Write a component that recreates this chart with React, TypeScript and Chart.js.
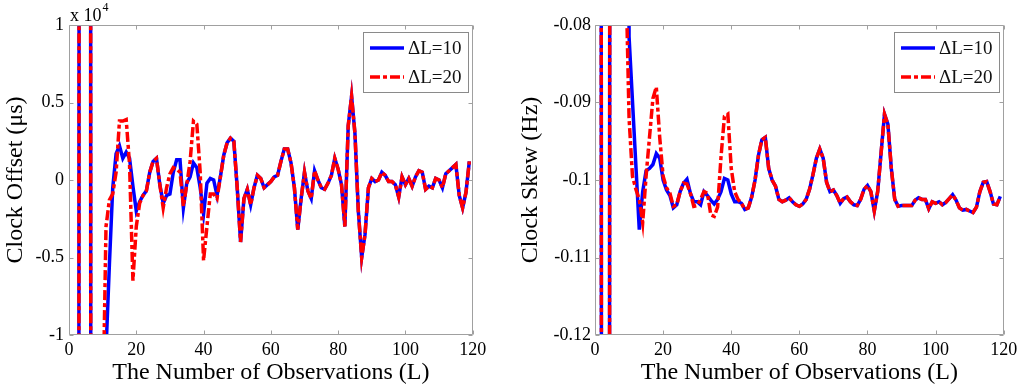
import React, { useEffect, useRef } from 'react';
import { Chart, registerables } from 'chart.js';

Chart.register(...registerables);

// ---------- data ----------
const observations = [
  1, 2, 3, 4, 5, 6, 7, 8, 9, 10,
  11, 12, 13, 14, 15, 16, 17, 18, 19, 20,
  21, 22, 23, 24, 25, 26, 27, 28, 29, 30,
  31, 32, 33, 34, 35, 36, 37, 38, 39, 40,
  41, 42, 43, 44, 45, 46, 47, 48, 49, 50,
  51, 52, 53, 54, 55, 56, 57, 58, 59, 60,
  61, 62, 63, 64, 65, 66, 67, 68, 69, 70,
  71, 72, 73, 74, 75, 76, 77, 78, 79, 80,
  81, 82, 83, 84, 85, 86, 87, 88, 89, 90,
  91, 92, 93, 94, 95, 96, 97, 98, 99, 100,
  101, 102, 103, 104, 105, 106, 107, 108, 109, 110,
  111, 112, 113, 114, 115, 116, 117, 118, 119,
];

// Clock offset (x 10^4 us)
const offsetDL10 = [
  -60, -60, 2, 50, 50, 45, -55, -50, -50, -30,
  -1.1, -0.55, -0.05, 0.17, 0.22, 0.14, 0.18, 0.14, -0.04, -0.2,
  -0.14, -0.1, -0.07, 0.05, 0.12, 0.14, -0.03, -0.15, -0.1, -0.09,
  0.05, 0.13, 0.13, -0.18, -0.02, 0.02, 0.11, 0.08, -0.05, -0.22,
  -0.02, 0.01, 0.0, -0.1, 0.02, 0.16, 0.24, 0.27, 0.25, -0.05,
  -0.4, -0.12, -0.06, -0.16, -0.05, 0.03, 0.01, -0.05, -0.03, -0.01,
  0.02, 0.03, 0.12, 0.2, 0.2, 0.11, -0.05, -0.32, -0.12, 0.05,
  -0.07, -0.12, 0.06, 0.0, -0.05, -0.06, -0.02, 0.03, 0.14, 0.07,
  -0.03, -0.3, 0.35, 0.54, 0.3, -0.2, -0.5, -0.35, -0.05, 0.01,
  -0.01, 0.0, 0.05, 0.03, -0.01, -0.01, -0.03, -0.11, 0.02, -0.03,
  0.01, -0.04, 0.02, 0.06, 0.05, -0.06, -0.04, -0.05, 0.01, 0.0,
  -0.05, 0.04, 0.06, 0.08, 0.1, -0.1, -0.18, -0.08, 0.12,
];

const offsetDL20 = [
  -60, -60, 2, 50, 50, 45, -55, -50, -50, -1.6,
  -0.3, -0.13, -0.09, 0.05, 0.38, 0.38, 0.39, 0.1, -0.65, -0.3,
  -0.15, -0.1, -0.07, 0.05, 0.12, 0.14, -0.03, -0.18, -0.05, 0.04,
  0.08, 0.07, 0.05, -0.17, -0.03, 0.12, 0.38, 0.36, 0.05, -0.52,
  -0.3, -0.09, -0.09, -0.12, 0.02, 0.16, 0.24, 0.27, 0.25, -0.05,
  -0.4, -0.12, -0.06, -0.16, -0.05, 0.03, 0.01, -0.05, -0.03, -0.01,
  0.02, 0.03, 0.12, 0.2, 0.2, 0.11, -0.05, -0.32, -0.12, 0.05,
  -0.07, -0.12, 0.06, 0.0, -0.05, -0.06, -0.02, 0.03, 0.14, 0.07,
  -0.03, -0.3, 0.35, 0.54, 0.3, -0.2, -0.5, -0.35, -0.05, 0.01,
  -0.01, 0.0, 0.05, 0.03, -0.01, -0.01, -0.03, -0.11, 0.02, -0.03,
  0.01, -0.04, 0.02, 0.06, 0.05, -0.06, -0.04, -0.05, 0.01, 0.0,
  -0.05, 0.04, 0.06, 0.08, 0.1, -0.1, -0.18, -0.08, 0.12,
];

// Clock skew (Hz)
const skewDL10 = [
  0.76, -0.24, -0.3, -0.4, 0.6, 0.5, 0.5, 0.5, 0.5, -0.0815,
  -0.0898, -0.0981, -0.1064, -0.1015, -0.0988, -0.0985, -0.098, -0.0966, -0.0972, -0.1,
  -0.1013, -0.102, -0.1036, -0.1032, -0.1015, -0.1004, -0.0999, -0.1017, -0.1028, -0.1028,
  -0.1032, -0.1015, -0.102, -0.1026, -0.1031, -0.1025, -0.1015, -0.0998, -0.1, -0.1018,
  -0.1028, -0.1028, -0.103, -0.1038, -0.1036, -0.1022, -0.1, -0.0968, -0.0948, -0.0945,
  -0.0985, -0.1, -0.1008, -0.1025, -0.1028, -0.1026, -0.1023, -0.1028, -0.1032, -0.1034,
  -0.1031, -0.1025, -0.1012, -0.0993, -0.0972, -0.096, -0.0972, -0.1003, -0.1015, -0.1013,
  -0.102, -0.103, -0.1024, -0.1022, -0.1028, -0.1032, -0.1033, -0.1025, -0.1012, -0.1007,
  -0.1015, -0.104, -0.1015, -0.0965, -0.0915, -0.0928, -0.0985, -0.1025, -0.1034, -0.1033,
  -0.1033, -0.1033, -0.1033, -0.1026, -0.1023, -0.1025, -0.1025, -0.1037, -0.1028, -0.103,
  -0.1028, -0.1032, -0.1029, -0.1024, -0.1019, -0.1026, -0.1036, -0.1039, -0.1038, -0.104,
  -0.1042, -0.1035, -0.1015, -0.1003, -0.1002, -0.1015, -0.1031, -0.1032, -0.1021,
];

const skewDL20 = [
  0.76, -0.24, -0.3, -0.4, 0.6, 0.5, 0.5, 0.5, -0.072, -0.092,
  -0.0995, -0.1012, -0.1025, -0.1055, -0.0995, -0.0945, -0.0895, -0.088, -0.0945, -0.0995,
  -0.101, -0.1017, -0.1034, -0.1032, -0.1015, -0.1004, -0.1005, -0.1017, -0.1034, -0.1033,
  -0.1025, -0.1015, -0.1017, -0.1045, -0.1047, -0.1035, -0.097, -0.0918, -0.0915, -0.0985,
  -0.1015, -0.1025, -0.103, -0.1038, -0.1036, -0.1022, -0.1, -0.0968, -0.0948, -0.0945,
  -0.0985, -0.1, -0.1008, -0.1025, -0.1028, -0.1026, -0.1023, -0.1028, -0.1032, -0.1034,
  -0.1031, -0.1025, -0.1012, -0.0993, -0.0972, -0.096, -0.0972, -0.1003, -0.1015, -0.1013,
  -0.102, -0.103, -0.1024, -0.1022, -0.1028, -0.1032, -0.1033, -0.1025, -0.1012, -0.1007,
  -0.1015, -0.104, -0.1015, -0.0965, -0.0915, -0.0928, -0.0985, -0.1025, -0.1034, -0.1033,
  -0.1033, -0.1033, -0.1033, -0.1026, -0.1023, -0.1025, -0.1025, -0.1037, -0.1028, -0.103,
  -0.1028, -0.1032, -0.1029, -0.1024, -0.1019, -0.1026, -0.1036, -0.1039, -0.1038, -0.104,
  -0.1042, -0.1035, -0.1015, -0.1003, -0.1002, -0.1015, -0.1031, -0.1032, -0.1021,
];

const xTickValues = [0, 20, 40, 60, 80, 100, 120];
const offsetTickValues = [-1, -0.5, 0, 0.5, 1];
const skewTickValues = [-0.12, -0.11, -0.1, -0.09, -0.08];
const seriesLabels = ['ΔL=10', 'ΔL=20'];
const xTitle = 'The Number of Observations (L)';
const offsetTitle = 'Clock Offset (μs)';
const skewTitle = 'Clock Skew (Hz)';
const offsetExponentBase = 'x 10';
const offsetExponentPower = '4';

// ---------- styles ----------
const SERIF = '"Liberation Serif", "Times New Roman", Times, serif';
const BLUE = '#0000ff';
const RED = '#ff0000';
const DASH_DOT = [10, 3, 4, 3];
const FRAME = '#a0a0a0';

const framePlugin = {
  id: 'matlabFrame',
  afterDatasetsDraw(chart: any) {
    const { ctx, chartArea: a, scales } = chart;
    const x = scales.x;
    const y = scales.y;
    const l = Math.round(a.left) + 0.5;
    const r = Math.round(a.right) - 0.5;
    const t = Math.round(a.top) + 0.5;
    const b = Math.round(a.bottom) - 0.5;
    ctx.save();
    ctx.strokeStyle = FRAME;
    ctx.lineWidth = 1;
    ctx.setLineDash([]);
    ctx.beginPath();
    ctx.rect(l, t, r - l, b - t);
    const tl = 4;
    x.ticks.forEach((tk: any) => {
      const px = Math.round(x.getPixelForValue(tk.value)) + 0.5;
      ctx.moveTo(px, b);
      ctx.lineTo(px, b - tl);
      ctx.moveTo(px, t);
      ctx.lineTo(px, t + tl);
    });
    y.ticks.forEach((tk: any) => {
      const py = Math.round(y.getPixelForValue(tk.value)) + 0.5;
      ctx.moveTo(l, py);
      ctx.lineTo(l + tl, py);
      ctx.moveTo(r, py);
      ctx.lineTo(r - tl, py);
    });
    ctx.stroke();
    ctx.restore();
  },
};

const legendBoxPlugin = {
  id: 'legendBox',
  afterDraw(chart: any) {
    const { ctx, chartArea: a } = chart;
    const w = 105;
    const h = 60;
    const bx = Math.round(a.right - 5 - w);
    const by = Math.round(a.top + 7);
    ctx.save();
    ctx.fillStyle = '#ffffff';
    ctx.fillRect(bx, by, w, h);
    ctx.strokeStyle = '#8a8a8a';
    ctx.lineWidth = 1;
    ctx.setLineDash([]);
    ctx.strokeRect(bx + 0.5, by + 0.5, w, h);
    chart.data.datasets.forEach((ds: any, i: number) => {
      const cy = by + 16 + i * 29;
      ctx.beginPath();
      ctx.setLineDash(ds.borderDash || []);
      ctx.lineCap = 'butt';
      ctx.strokeStyle = ds.borderColor;
      ctx.lineWidth = ds.borderWidth;
      ctx.moveTo(bx + 7, cy);
      ctx.lineTo(bx + 41, cy);
      ctx.stroke();
      ctx.setLineDash([]);
      ctx.fillStyle = '#111';
      ctx.font = `19px ${SERIF}`;
      ctx.textAlign = 'left';
      ctx.textBaseline = 'middle';
      ctx.fillText(ds.label, bx + 45, cy + 1);
    });
    ctx.restore();
  },
};

const exponentPlugin = {
  id: 'exponentLabel',
  afterDraw(chart: any, _args: any, opts: any) {
    if (!opts || !opts.base) return;
    const { ctx, chartArea: a } = chart;
    ctx.save();
    ctx.fillStyle = '#000';
    ctx.textAlign = 'left';
    ctx.textBaseline = 'alphabetic';
    ctx.font = `18px ${SERIF}`;
    const x0 = a.left + 1;
    ctx.fillText(opts.base, x0, a.top - 4);
    const w = ctx.measureText(opts.base).width;
    ctx.font = `12px ${SERIF}`;
    ctx.fillText(opts.power, x0 + w + 1, a.top - 14);
    ctx.restore();
  },
};

type PanelSpec = {
  left: number;
  seriesA: number[];
  seriesB: number[];
  yMin: number;
  yMax: number;
  yTicks: number[];
  yTitle: string;
  yAxisWidth: number;
  padRight: number;
  yTickPad: number;
  yTitlePad: number;
  exponent: boolean;
};

function ChartPanel({ spec }: { spec: PanelSpec }) {
  const ref = useRef<HTMLCanvasElement | null>(null);
  useEffect(() => {
    const canvas = ref.current;
    if (!canvas) return;
    const tickFont = { family: SERIF, size: 18 };
    const titleFont = { family: SERIF, size: 24 };
    const chart = new Chart(canvas, {
      type: 'line',
      data: {
        datasets: [
          {
            label: seriesLabels[0],
            data: observations.map((L, i) => ({ x: L, y: spec.seriesA[i] })),
            borderColor: BLUE,
            borderWidth: 3.5,
            pointRadius: 0,
            tension: 0,
            fill: false,
            order: 1,
          },
          {
            label: seriesLabels[1],
            data: observations.map((L, i) => ({ x: L, y: spec.seriesB[i] })),
            borderColor: RED,
            borderWidth: 3.5,
            borderDash: DASH_DOT,
            borderCapStyle: 'butt',
            pointRadius: 0,
            tension: 0,
            fill: false,
            order: 0,
          },
        ],
      } as any,
      options: {
        animation: false,
        responsive: false,
        devicePixelRatio: 1,
        events: [],
        layout: { padding: { top: 25, right: spec.padRight, left: 0, bottom: 0 } },
        plugins: {
          legend: { display: false },
          tooltip: { enabled: false },
          exponentLabel: spec.exponent
            ? { base: offsetExponentBase, power: offsetExponentPower }
            : {},
        },
        scales: {
          x: {
            type: 'linear',
            min: 0,
            max: 120,
            afterBuildTicks: (s: any) => {
              s.ticks = xTickValues.map((v) => ({ value: v }));
            },
            afterFit: (s: any) => {
              s.height = 55;
            },
            grid: { display: false, drawTicks: false },
            border: { display: false },
            ticks: {
              color: '#000',
              font: tickFont,
              padding: 4,
              maxRotation: 0,
              autoSkip: false,
            },
            title: {
              display: true,
              text: xTitle,
              color: '#000',
              font: titleFont,
              padding: { top: 0, bottom: 3 },
            },
          },
          y: {
            type: 'linear',
            min: spec.yMin,
            max: spec.yMax,
            afterBuildTicks: (s: any) => {
              s.ticks = spec.yTicks.map((v) => ({ value: v }));
            },
            afterFit: (s: any) => {
              s.width = spec.yAxisWidth;
            },
            grid: { display: false, drawTicks: false },
            border: { display: false },
            ticks: {
              color: '#000',
              font: tickFont,
              padding: spec.yTickPad,
              autoSkip: false,
              callback: (v: any) => String(Number(Number(v).toFixed(4))),
            },
            title: {
              display: true,
              text: spec.yTitle,
              color: '#000',
              font: titleFont,
              padding: { top: spec.yTitlePad, bottom: 0 },
            },
          },
        },
      } as any,
      plugins: [framePlugin, legendBoxPlugin, exponentPlugin],
    });
    return () => chart.destroy();
  }, [spec]);
  return (
    <canvas
      ref={ref}
      width={512}
      height={390}
      style={{ position: 'absolute', left: spec.left, top: 0, width: 512, height: 390 }}
    />
  );
}

const leftSpec: PanelSpec = {
  left: 0,
  seriesA: offsetDL10,
  seriesB: offsetDL20,
  yMin: -1,
  yMax: 1,
  yTicks: offsetTickValues,
  yTitle: offsetTitle,
  yAxisWidth: 69,
  padRight: 39.3,
  yTickPad: 5,
  yTitlePad: 1,
  exponent: true,
};

const rightSpec: PanelSpec = {
  left: 512,
  seriesA: skewDL10,
  seriesB: skewDL20,
  yMin: -0.12,
  yMax: -0.08,
  yTicks: skewTickValues,
  yTitle: skewTitle,
  yAxisWidth: 83,
  padRight: 20.3,
  yTickPad: 4,
  yTitlePad: 4,
  exponent: false,
};

export default function App() {
  return (
    <div
      style={{
        position: 'absolute',
        left: 0,
        top: 0,
        width: 1024,
        height: 390,
        background: '#ffffff',
        overflow: 'hidden',
      }}
    >
      <ChartPanel spec={leftSpec} />
      <ChartPanel spec={rightSpec} />
    </div>
  );
}
